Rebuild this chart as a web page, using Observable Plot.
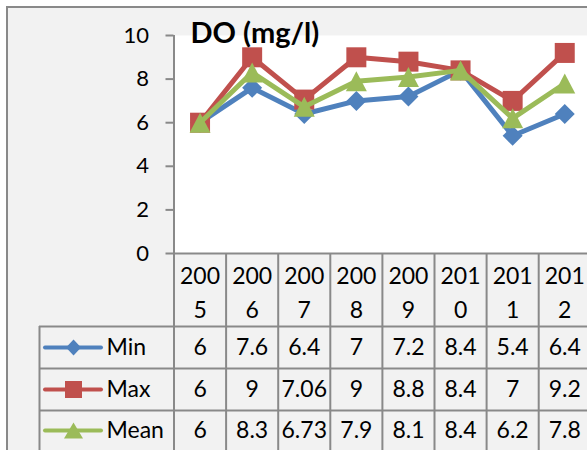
<!DOCTYPE html>
<html><head><meta charset="utf-8">
<script src="https://cdn.jsdelivr.net/npm/d3@7"></script>
<script src="https://cdn.jsdelivr.net/npm/@observablehq/plot@0.6"></script>
<style>
body{margin:0;background:#fff;}
#wrap{position:relative;width:587px;height:450px;overflow:hidden;background:#fff;}
#bg{position:absolute;left:6px;top:6px;width:600px;height:460px;background:#f2f2f2;border-left:2px solid #898989;border-top:2px solid #898989;}
#chart{position:absolute;left:0;top:0;}
#chart svg g[aria-label="y-axis tick"]{stroke:#898989;stroke-width:2;}
</style></head>
<body><div id="wrap"><div id="bg"></div><div id="chart"></div></div>
<script>
// ---- data ----
const years = ["2005","2006","2007","2008","2009","2010","2011","2012"];
const seriesNames = ["Min","Max","Mean"];
const minValues  = [6, 7.6, 6.4, 7, 7.2, 8.4, 5.4, 6.4];
const maxValues  = [6, 9, 7.06, 9, 8.8, 8.4, 7, 9.2];
const meanValues = [6, 8.3, 6.73, 7.9, 8.1, 8.4, 6.2, 7.8];
const yTicks = [0, 2, 4, 6, 8, 10];
const title = "DO (mg/l)";

// ---- styles / layout ----
const colors = ["#4f81bd", "#c0504d", "#9bbb59"];
const W = 587, H = 450;
const xLeft = 173.5, colW = 52.1, yZero = 253, yTop = 35;
const pxPerUnit = (yZero - yTop) / 10;
const px2x = px => (px - xLeft) / colW;
const px2y = px => (yZero - px) / pxPerUnit;
const grid = "#898989";
const tableFont = 23;

const seriesValues = [minValues, maxValues, meanValues];
const rows = seriesNames.flatMap((s, si) => years.map((yr, i) => ({series: s, si, year: yr, value: seriesValues[si][i]})));
const xOf = d => years.indexOf(d.year) + 0.5;

const diamond = (w, h) => ({draw(c){c.moveTo(0,-h/2);c.lineTo(w/2,0);c.lineTo(0,h/2);c.lineTo(-w/2,0);c.closePath();}});
const square = (w, h) => ({draw(c){c.rect(-w/2,-h/2,w,h);}});
const triangle = (w, h) => ({draw(c){c.moveTo(0,-h/2);c.lineTo(w/2,h/2);c.lineTo(-w/2,h/2);c.closePath();}});
const chartSymbols = [diamond(20,20), square(20,20), triangle(21,20)];
const keySymbols = [diamond(15,16), square(17,17), triangle(19,16)];

const headerCenter = px2y(289.75);
const rowCenters = [347, 389, 430].map(px2y);
const rowLines = [326, 368, 410].map(px2y);
const tableBottom = px2y(455);

const seriesMarks = seriesNames.flatMap((s, si) => {
  const d = rows.filter(r => r.si === si);
  return [
    Plot.line(d, {x: xOf, y: "value", stroke: colors[si], strokeWidth: 5, strokeLinejoin: "round"}),
    Plot.dot(d, {x: xOf, y: "value", symbol: chartSymbols[si], fill: colors[si], stroke: null, r: 10})
  ];
});

const legendMarks = seriesNames.flatMap((s, si) => [
  Plot.ruleY([s], {y: () => rowCenters[si], x1: px2x(45), x2: px2x(101), stroke: colors[si], strokeWidth: 4, strokeLinecap: "round"}),
  Plot.dot([s], {x: () => px2x(73), y: () => rowCenters[si], symbol: keySymbols[si], fill: colors[si], stroke: null, r: 8}),
  Plot.text([s], {x: () => px2x(106), y: () => rowCenters[si], text: d => d, textAnchor: "start", fontSize: tableFont, fill: "black"})
]);

const chart = Plot.plot({
  width: W, height: H,
  marginLeft: xLeft, marginRight: 0, marginTop: yTop, marginBottom: H - yZero,
  style: {background: "transparent", fontFamily: "Lato", fontSize: "22px", color: "black"},
  x: {type: "linear", domain: [0, years.length], range: [xLeft, xLeft + colW * years.length], axis: null},
  y: {domain: [0, 10], ticks: yTicks, tickSize: 8, tickPadding: 17, label: null, tickFormat: d => String(d)},
  marks: [
    Plot.frame({fill: "white", stroke: null}),
    // table grid
    Plot.ruleX(d3.range(0, years.length + 1), {x: d => d, y1: 0, y2: tableBottom, stroke: grid, strokeWidth: 2}),
    Plot.ruleX([0], {x: d => d, y1: 10, y2: 0, stroke: grid, strokeWidth: 2}),
    Plot.ruleY([0], {stroke: grid, strokeWidth: 2}),
    Plot.ruleY(rowLines, {y: d => d, x1: px2x(39), x2: years.length + 0.5, stroke: grid, strokeWidth: 2}),
    Plot.ruleX([px2x(39)], {x: d => d, y1: rowLines[0], y2: tableBottom, stroke: grid, strokeWidth: 2}),
    // header
    Plot.text(years, {x: (d, i) => i + 0.5, y: () => headerCenter, text: d => d.slice(0, 3) + "\n" + d.slice(3), lineHeight: 1.45, fontSize: tableFont, fill: "black"}),
    // values
    Plot.text(rows, {x: xOf, y: d => rowCenters[d.si], text: d => String(d.value), fontSize: tableFont, fill: "black"}),
    ...legendMarks,
    ...seriesMarks,
    Plot.text([title], {frameAnchor: "top-left", dx: 16.5, dy: -1.6, textAnchor: "start", lineAnchor: "middle", fontWeight: "bold", fontSize: 29, fill: "black"})
  ]
});
document.getElementById("chart").appendChild(chart);
</script>
</body></html>
